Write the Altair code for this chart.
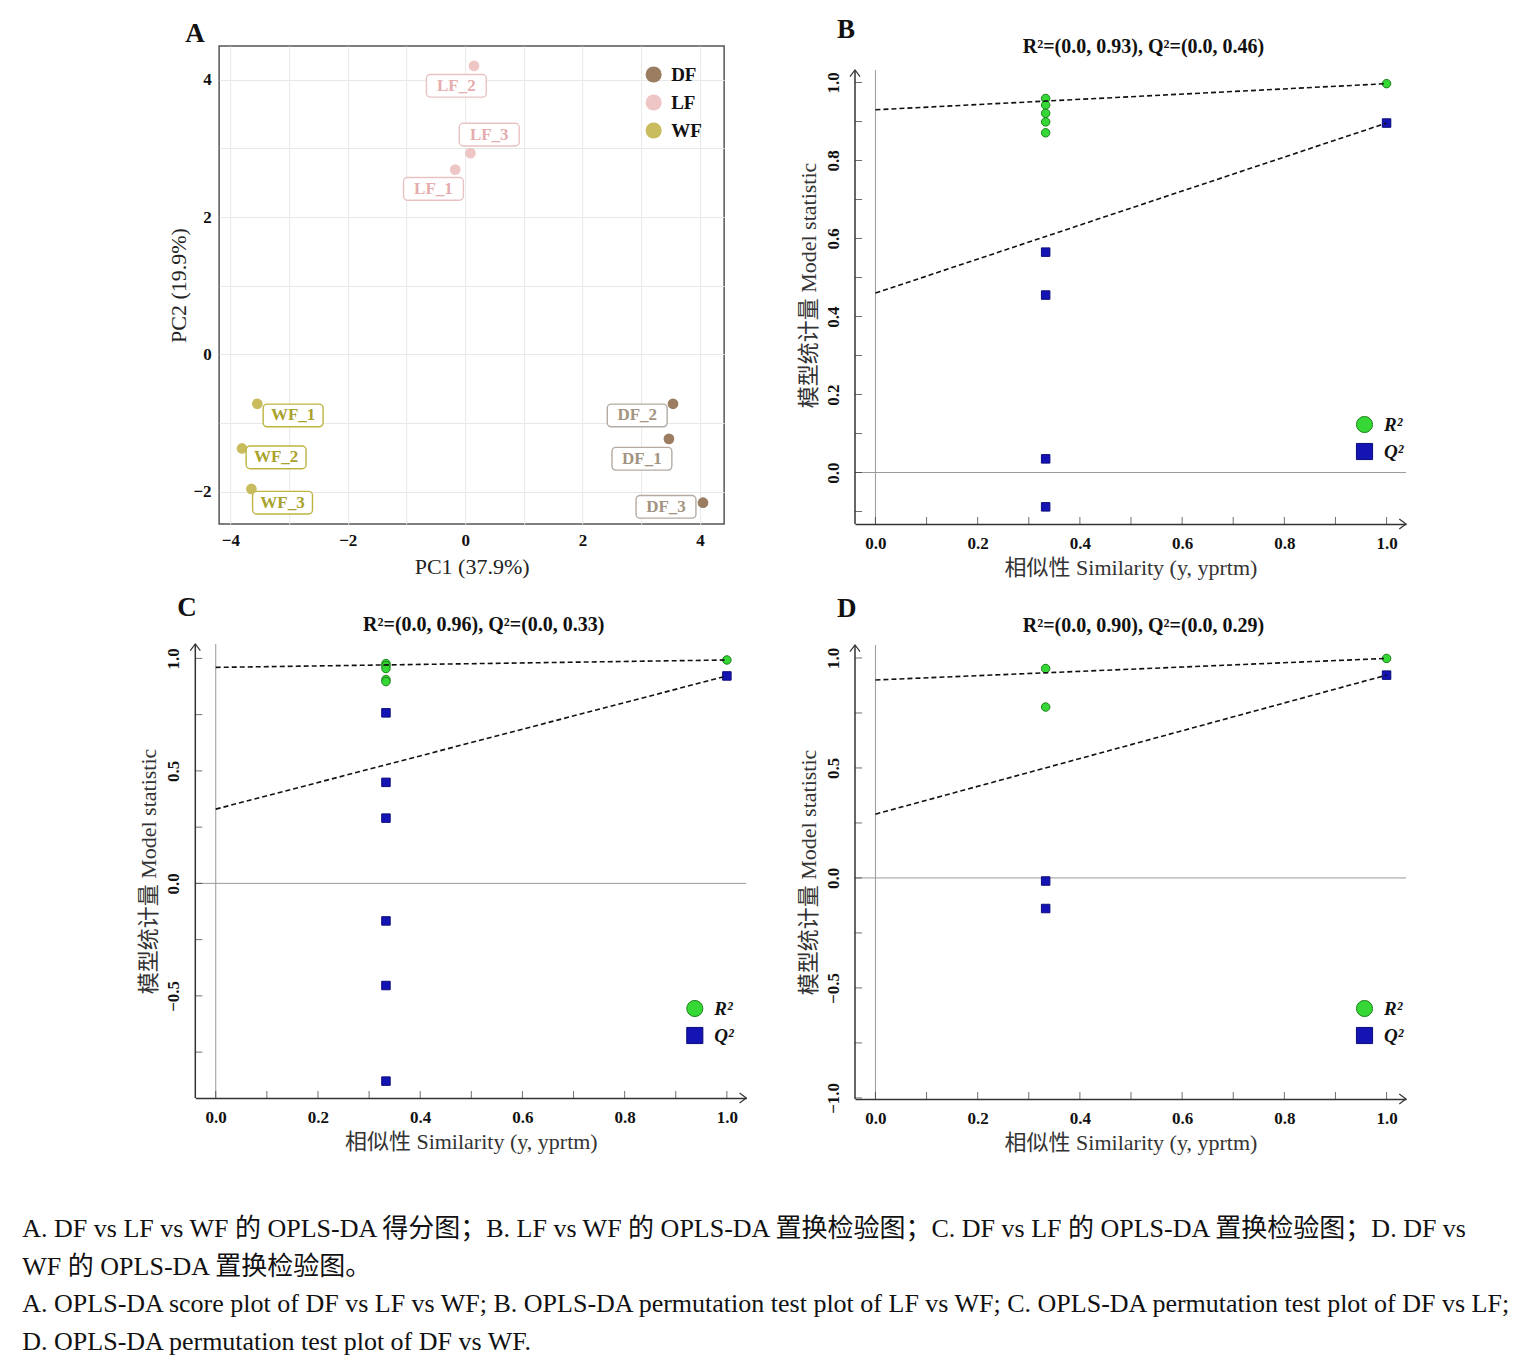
import altair as alt
import pandas as pd

SERIF = "Liberation Serif"
MIXED = "Liberation Serif, Noto Sans CJK SC"

# ---------------- Panel A: OPLS-DA score plot ----------------
sample_names = ["DF_1", "DF_2", "DF_3", "LF_1", "LF_2", "LF_3", "WF_1", "WF_2", "WF_3"]
sample_groups = ["DF", "DF", "DF", "LF", "LF", "LF", "WF", "WF", "WF"]
pc1_scores = [3.47, 3.54, 4.05, -0.17, 0.15, 0.09, -3.54, -3.80, -3.64]
pc2_scores = [-1.23, -0.72, -2.16, 2.69, 4.20, 2.93, -0.72, -1.37, -1.96]
label_pc1 = [3.01, 2.93, 3.42, -0.54, -0.15, 0.41, -2.93, -3.22, -3.11]
label_pc2 = [-1.52, -0.89, -2.22, 2.41, 3.91, 3.20, -0.89, -1.50, -2.16]
group_names = ["DF", "LF", "WF"]
group_colors = ["#9b7e62", "#efc6c6", "#c9bc5f"]
label_text_colors = ["#a39482", "#e5adad", "#a9a22c"]
label_box_colors = ["#b3aba3", "#e9c3c3", "#bdb53f"]
pc1_ticks = [-4, -3, -2, -1, 0, 1, 2, 3, 4]
pc2_ticks = [-2, -1, 0, 1, 2, 3, 4]

# ---------------- Permutation tests ----------------
stat_names = ["R²", "Q²"]
perm_similarity = 0.333
orig_similarity = 1.0
sim_major = [0.0, 0.2, 0.4, 0.6, 0.8, 1.0]
sim_minor = [0.0, 0.1, 0.2, 0.3, 0.4, 0.5, 0.6, 0.7, 0.8, 0.9, 1.0]

# B: LF vs WF
b_r2_perm = [0.959, 0.942, 0.921, 0.899, 0.871]
b_q2_perm = [0.565, 0.455, 0.035, -0.088]
b_r2_orig, b_q2_orig = 0.997, 0.896
b_r2_int, b_q2_int = 0.93, 0.46
b_y_major = [0.0, 0.2, 0.4, 0.6, 0.8, 1.0]
b_y_minor = [-0.1, 0.0, 0.1, 0.2, 0.3, 0.4, 0.5, 0.6, 0.7, 0.8, 0.9, 1.0]

# C: DF vs LF
c_r2_perm = [0.977, 0.968, 0.955, 0.906, 0.897]
c_q2_perm = [0.758, 0.449, 0.290, -0.167, -0.454, -0.879]
c_r2_orig, c_q2_orig = 0.993, 0.922
c_r2_int, c_q2_int = 0.96, 0.33
c_y_major = [-0.5, 0.0, 0.5, 1.0]
c_y_minor = [-0.75, -0.5, -0.25, 0.0, 0.25, 0.5, 0.75, 1.0]

# D: DF vs WF
d_r2_perm = [0.952, 0.777]
d_q2_perm = [-0.014, -0.139]
d_r2_orig, d_q2_orig = 0.998, 0.922
d_r2_int, d_q2_int = 0.90, 0.29
d_y_major = [-1.0, -0.5, 0.0, 0.5, 1.0]
d_y_minor = [-1.0, -0.75, -0.5, -0.25, 0.0, 0.25, 0.5, 0.75, 1.0]

caption_lines = [
    "A. DF vs LF vs WF 的 OPLS-DA 得分图；B. LF vs WF 的 OPLS-DA 置换检验图；C. DF vs LF 的 OPLS-DA 置换检验图；D. DF vs",
    "WF 的 OPLS-DA 置换检验图。",
    "A. OPLS-DA score plot of DF vs LF vs WF; B. OPLS-DA permutation test plot of LF vs WF; C. OPLS-DA permutation test plot of DF vs LF;",
    "D. OPLS-DA permutation test plot of DF vs WF.",
]

INDEP = dict(color="independent", fill="independent", stroke="independent", shape="independent")

# ================= Panel A =================
a_df = pd.DataFrame({
    "sample": sample_names, "group": sample_groups,
    "pc1": pc1_scores, "pc2": pc2_scores,
    "lx": label_pc1, "ly": label_pc2,
})
xsA = alt.Scale(domain=[-4.19, 4.41], nice=False, zero=False)
ysA = alt.Scale(domain=[-2.47, 4.49], nice=False, zero=False)


def a_axis(vals, title, tpad):
    return alt.Axis(
        values=vals, labelExpr="datum.value % 2 == 0 ? format(datum.value, 'd') : ''",
        ticks=False, domain=False, grid=True, gridColor="#e8e8e8", gridWidth=1,
        labelFont=SERIF, labelFontWeight="bold", labelFontSize=17, labelColor="#111",
        labelPadding=8, title=title, titleFont=SERIF, titleFontSize=22,
        titleFontWeight="normal", titleColor="#222", titlePadding=tpad,
    )


axA_x = a_axis(pc1_ticks, "PC1 (37.9%)", 8)
axA_y = a_axis(pc2_ticks, "PC2 (19.9%)", 2)

a_points = alt.Chart(a_df).mark_circle(size=115, opacity=1).encode(
    x=alt.X("pc1:Q", scale=xsA, axis=axA_x),
    y=alt.Y("pc2:Q", scale=ysA, axis=axA_y),
    color=alt.Color("group:N", scale=alt.Scale(domain=group_names, range=group_colors),
                    legend=alt.Legend(orient="none", legendX=425, legendY=19, title=None,
                                      symbolSize=260, symbolType="circle", symbolOpacity=1,
                                      labelFont=SERIF, labelFontSize=19, labelFontWeight="bold",
                                      labelColor="#111", rowPadding=8, labelOffset=8, padding=0)),
)
a_boxes = alt.Chart(a_df).transform_calculate(
    bx1="datum.lx - 0.51", bx2="datum.lx + 0.51",
    by1="datum.ly - 0.165", by2="datum.ly + 0.165",
).mark_rect(fill="white", strokeWidth=1.4, cornerRadius=4).encode(
    x=alt.X("bx1:Q", scale=xsA, axis=axA_x), x2="bx2:Q",
    y=alt.Y("by1:Q", scale=ysA, axis=axA_y), y2="by2:Q",
    stroke=alt.Stroke("group:N", scale=alt.Scale(domain=group_names, range=label_box_colors), legend=None),
)
a_labels = alt.Chart(a_df).mark_text(font=SERIF, fontWeight="bold", fontSize=17).encode(
    x=alt.X("lx:Q", scale=xsA, axis=axA_x),
    y=alt.Y("ly:Q", scale=ysA, axis=axA_y),
    text="sample:N",
    fill=alt.Fill("group:N", scale=alt.Scale(domain=group_names, range=label_text_colors), legend=None),
)
panel_a = alt.layer(a_points, a_boxes, a_labels).resolve_scale(**INDEP).properties(
    width=505, height=478,
    title=alt.TitleParams("A", anchor="start", frame="group", dx=-34, offset=-2,
                          font=SERIF, fontSize=27, fontWeight="bold", color="#111"),
    view=alt.ViewBackground(stroke="#555", strokeWidth=1.5),
)


# ================= Permutation panels =================
def perm_panel(letter, stat_title, r2p, q2p, r2o, q2o, r2i, q2i,
               ybottom, ytop, px_per_unit, extra_px, title_y, ymajor, yminor, legxy):
    height = round((ytop - ybottom) * px_per_unit) + extra_px
    ydom = [ybottom, ytop + extra_px / px_per_unit]
    xs = alt.Scale(domain=[-0.04, 1.038], nice=False, zero=False)
    ys = alt.Scale(domain=ydom, nice=False, zero=False)
    pts = pd.DataFrame({
        "stat": ["R²"] * (len(r2p) + 1) + ["Q²"] * (len(q2p) + 1),
        "sim": [perm_similarity] * len(r2p) + [orig_similarity] + [perm_similarity] * len(q2p) + [orig_similarity],
        "val": r2p + [r2o] + q2p + [q2o],
    })
    lines = pd.DataFrame({
        "stat": ["R²", "R²", "Q²", "Q²"],
        "sim": [0.0, orig_similarity, 0.0, orig_similarity],
        "val": [r2i, r2o, q2i, q2o],
    })
    xaxis = alt.Axis(
        values=sim_major, format=".1f", ticks=False, grid=False,
        domainColor="#333", domainWidth=1.5,
        labelFont=SERIF, labelFontWeight="bold", labelFontSize=17, labelColor="#111", labelPadding=11,
        title="相似性  Similarity (y, yprtm)", titleFont=MIXED, titleFontSize=22,
        titleFontWeight="normal", titleColor="#333", titlePadding=6,
    )
    yaxis = alt.Axis(
        values=ymajor, format=".1f", ticks=False, grid=False, domain=False,
        labelFont=SERIF, labelFontWeight="bold", labelFontSize=17, labelColor="#111",
        labelAngle=270, labelAlign="center", labelBaseline="bottom", labelPadding=13,
        title="模型统计量  Model statistic", titleFont=MIXED, titleFontSize=22,
        titleFontWeight="normal", titleColor="#333", titlePadding=4,
    )
    top_axis = alt.Axis(
        orient="top", labels=False, ticks=False, domain=False, grid=False,
        title=stat_title, titleFont=SERIF, titleFontSize=20, titleFontWeight="bold",
        titleColor="#111", titleBaseline="alphabetic", titleAlign="center",
        titleX=288, titleY=title_y,
    )
    leg = alt.Legend(orient="none", legendX=legxy[0], legendY=legxy[1], title=None,
                     symbolSize=260, symbolStrokeWidth=1, labelFont=SERIF, labelFontSize=19,
                     labelFontWeight="bold", labelFontStyle="italic", labelColor="#111",
                     rowPadding=6, labelOffset=10, padding=0)

    # y axis line (stops at the arrow) and grey zero lines
    yline = alt.Chart(pd.DataFrame({"k": [0]})).mark_rule(color="#333", strokeWidth=1.5).encode(
        x=alt.XDatum(-0.04, type="quantitative", scale=xs, axis=None),
        y=alt.YDatum(ybottom, type="quantitative", scale=ys, axis=yaxis),
        y2=alt.Y2Datum(ytop),
    )
    vzero = alt.Chart(pd.DataFrame({"sim": [0.0]})).mark_rule(color="#9a9a9a", strokeWidth=1).encode(
        x=alt.X("sim:Q", scale=xs, axis=top_axis),
        y=alt.YDatum(ybottom, type="quantitative", scale=ys, axis=yaxis),
        y2=alt.Y2Datum(ytop),
    )
    hzero = alt.Chart(pd.DataFrame({"val": [0.0]})).mark_rule(color="#9a9a9a", strokeWidth=1).encode(
        y=alt.Y("val:Q", scale=ys, axis=yaxis))
    points = alt.Chart(pts).mark_point(filled=True, opacity=1, strokeWidth=1, size=72).encode(
        x=alt.X("sim:Q", scale=xs, axis=xaxis),
        y=alt.Y("val:Q", scale=ys, axis=yaxis),
        fill=alt.Fill("stat:N", scale=alt.Scale(domain=stat_names, range=["#35d835", "#1414b4"]), legend=leg),
        stroke=alt.Stroke("stat:N", scale=alt.Scale(domain=stat_names, range=["#1d7f1d", "#0c0c7a"]), legend=leg),
        shape=alt.Shape("stat:N", scale=alt.Scale(domain=stat_names, range=["circle", "square"]), legend=leg),
    )
    reg = alt.Chart(lines).mark_line(color="#111", strokeWidth=1.6, strokeDash=[5, 3]).encode(
        x=alt.X("sim:Q", scale=xs, axis=None),
        y=alt.Y("val:Q", scale=ys, axis=yaxis),
        detail="stat:N",
    )
    xticks = alt.Chart(pd.DataFrame({"t": sim_minor})).mark_tick(
        orient="vertical", size=7, thickness=1, color="#333", yOffset=-3.5).encode(
        x=alt.X("t:Q", scale=xs, axis=None),
        y=alt.YDatum(ybottom, type="quantitative", scale=ys, axis=yaxis),
    )
    yticks = alt.Chart(pd.DataFrame({"t": yminor})).mark_tick(
        orient="horizontal", size=7, thickness=1, color="#333", xOffset=3.5).encode(
        y=alt.Y("t:Q", scale=ys, axis=yaxis),
        x=alt.XDatum(-0.04, type="quantitative", scale=xs, axis=None),
    )
    xarrow = alt.Chart(pd.DataFrame({"k": [0]})).mark_point(
        shape="M-1,-0.75L0,0L-1,0.75", filled=False, size=180, strokeWidth=1.2, color="#333", opacity=1).encode(
        x=alt.XDatum(1.038, type="quantitative", scale=xs, axis=None),
        y=alt.YDatum(ybottom, type="quantitative", scale=ys, axis=yaxis),
    )
    yarrow = alt.Chart(pd.DataFrame({"k": [0]})).mark_point(
        shape="M-0.75,1L0,0L0.75,1", filled=False, size=180, strokeWidth=1.2, color="#333", opacity=1).encode(
        x=alt.XDatum(-0.04, type="quantitative", scale=xs, axis=None),
        y=alt.YDatum(ytop, type="quantitative", scale=ys, axis=yaxis),
    )
    return alt.layer(hzero, vzero, yline, xticks, yticks, points, reg, xarrow, yarrow).resolve_axis(
        x="independent").resolve_scale(**INDEP).properties(
        width=551, height=height,
        title=alt.TitleParams(letter, anchor="start", frame="group", dx=-18, offset=-8,
                              font=SERIF, fontSize=27, fontWeight="bold", color="#111"),
    )


panel_b = perm_panel("B", "R²=(0.0, 0.93), Q²=(0.0, 0.46)", b_r2_perm, b_q2_perm, b_r2_orig, b_q2_orig,
                     b_r2_int, b_q2_int, -0.132, 1.032, 390, 24, 6, b_y_major, b_y_minor, (500, 369))
panel_c = perm_panel("C", "R²=(0.0, 0.96), Q²=(0.0, 0.33)", c_r2_perm, c_q2_perm, c_r2_orig, c_q2_orig,
                     c_r2_int, c_q2_int, -0.954, 1.064, 225, 0, -14, c_y_major, c_y_minor, (490, 355))
panel_d = perm_panel("D", "R²=(0.0, 0.90), Q²=(0.0, 0.29)", d_r2_perm, d_q2_perm, d_r2_orig, d_q2_orig,
                     d_r2_int, d_q2_int, -1.005, 1.059, 220, 0, -14, d_y_major, d_y_minor, (500, 354))

col1 = alt.vconcat(panel_a, panel_c, spacing=16, center=True).resolve_scale(**INDEP)
col2 = alt.vconcat(panel_b, panel_d, spacing=17).resolve_scale(**INDEP)

chart = alt.hconcat(col1, col2, spacing=47).resolve_scale(**INDEP).properties(
    padding={"left": 14, "top": 8, "right": 5, "bottom": 5},
    background="white",
    title=alt.TitleParams(caption_lines, orient="bottom", anchor="start", dx=-115, offset=63,
                          font=MIXED, fontSize=26, fontWeight="normal", lineHeight=37.5, color="#111"),
).configure_view(stroke=None)

chart.save("out.html", embed_options={"renderer": "svg", "actions": False})
